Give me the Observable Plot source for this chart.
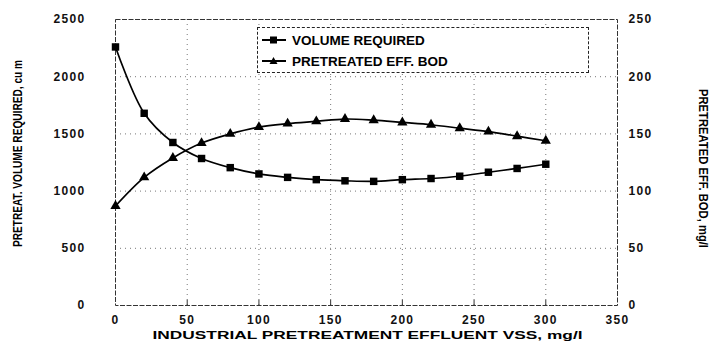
<!DOCTYPE html>
<html><head><meta charset="utf-8">
<script src="https://cdn.jsdelivr.net/npm/d3@7"></script>
<script src="https://cdn.jsdelivr.net/npm/@observablehq/plot@0.6"></script>
<style>
body{margin:0;background:#fff;font-family:"Liberation Sans",Arial,sans-serif;}
#wrap{position:relative;width:712px;height:350px;}
#legend{position:absolute;left:257px;top:27px;width:332px;height:46px;border:1px dashed #222;box-sizing:border-box;background:#fff;}
.row{position:absolute;left:2px;height:16px;display:flex;align-items:center;font-weight:bold;font-size:13.5px;color:#000;white-space:nowrap;}
.row svg{margin-right:4px;}
</style></head>
<body><div id="wrap"><div id="chart"></div>
<div id="legend">
 <div class="row" style="top:4px"><svg width="28" height="12"><line x1="2" y1="6" x2="26" y2="6" stroke="#000" stroke-width="2"/><rect x="10" y="2.5" width="7" height="7" fill="#000"/></svg>VOLUME REQUIRED</div>
 <div class="row" style="top:25px"><svg width="28" height="12"><line x1="2" y1="6" x2="26" y2="6" stroke="#000" stroke-width="2"/><path d="M13.5,2L17.5,9H9.5Z" fill="#000"/></svg>PRETREATED EFF. BOD</div>
</div></div>
<script>
const vss = [0,20,40,60,80,100,120,140,160,180,200,220,240,260,280,300];
const volume = [2260,1680,1425,1285,1205,1150,1120,1100,1090,1085,1100,1110,1130,1165,1198,1235];
const bod = [87,112,129,142,150,156,159,161,163,162,160,158,155,152,148,144];
const xTicks = [0,50,100,150,200,250,300,350];
const yTicks = [0,500,1000,1500,2000,2500];
const bodTicks = [0,50,100,150,200,250];
const xTitle = "INDUSTRIAL PRETREATMENT EFFLUENT VSS, mg/l";
const yTitle = "PRETREAT. VOLUME REQUIRED, cu m";
const y2Title = "PRETREATED EFF. BOD, mg/l";

const idx = vss.map((_, i) => i);
const ratio = 10; // right axis (BOD) mapped onto left scale
const tickFont = {fontSize: 12, fontWeight: "bold", fill: "#111"};

const chart = Plot.plot({
  width: 712, height: 350,
  marginLeft: 115, marginRight: 95, marginTop: 19, marginBottom: 45,
  style: {fontFamily: "'Liberation Sans', Arial, sans-serif", background: "#fff", color: "#000"},
  x: {domain: [0, 350]},
  y: {domain: [0, 2500]},
  marks: [
    Plot.ruleY(yTicks.slice(1, -1), {stroke: "#777", strokeDasharray: "1,4"}),
    Plot.ruleX(xTicks.slice(1, -1), {stroke: "#777", strokeDasharray: "1,4"}),
    Plot.frame({stroke: "#333", strokeDasharray: "5,1.5"}),
    Plot.ruleX(xTicks.slice(1, -1), {y1: 0, y2: 45, stroke: "#333"}),
    Plot.axisX(xTicks, {tickSize: 0, tickPadding: 10, tickFormat: d => String(d), ...tickFont, label: null}),
    Plot.axisY(yTicks, {anchor: "left", tickSize: 0, tickPadding: 30, tickFormat: d => String(d), ...tickFont, label: null}),
    Plot.axisY(bodTicks.map(d => d * ratio), {anchor: "right", tickSize: 0, tickPadding: 11, tickFormat: d => String(d / ratio), ...tickFont, label: null}),
    Plot.line(idx, {x: i => vss[i], y: i => volume[i], curve: "catmull-rom", stroke: "#000", strokeWidth: 1.7}),
    Plot.line(idx, {x: i => vss[i], y: i => bod[i] * ratio, curve: "catmull-rom", stroke: "#000", strokeWidth: 1.7}),
    Plot.dot(idx, {x: i => vss[i], y: i => volume[i], symbol: "square", r: 4.2, fill: "#000"}),
    Plot.dot(idx, {x: i => vss[i], y: i => bod[i] * ratio, symbol: "triangle", r: 3.8, fill: "#000"}),
    Plot.text([yTitle], {frameAnchor: "left", textAnchor: "middle", lineAnchor: "middle", dx: -97, dy: -9, rotate: -90, fontSize: 12, fontWeight: "bold", fill: "#000"}),
    Plot.text([y2Title], {frameAnchor: "right", textAnchor: "middle", lineAnchor: "middle", dx: 85, dy: 6, rotate: 90, fontSize: 12, fontWeight: "bold", fill: "#000"}),
    Plot.text([xTitle], {frameAnchor: "bottom", textAnchor: "middle", lineAnchor: "middle", dx: 1, dy: 30, fontSize: 10, fontWeight: "bold", fill: "#000"})
  ]
});
document.getElementById("chart").appendChild(chart);
// fit titles to the widths seen in the reference; widen the tick digits
const fit = {[yTitle]: 187, [y2Title]: 159, [xTitle]: 430};
d3.select(chart).selectAll("text").each(function() {
  const t = this.textContent;
  if (fit[t]) { this.setAttribute("textLength", fit[t]); this.setAttribute("lengthAdjust", "spacingAndGlyphs"); }
  else if (/^\d+$/.test(t)) { this.style.letterSpacing = "1.3px"; }
});
</script></body></html>
